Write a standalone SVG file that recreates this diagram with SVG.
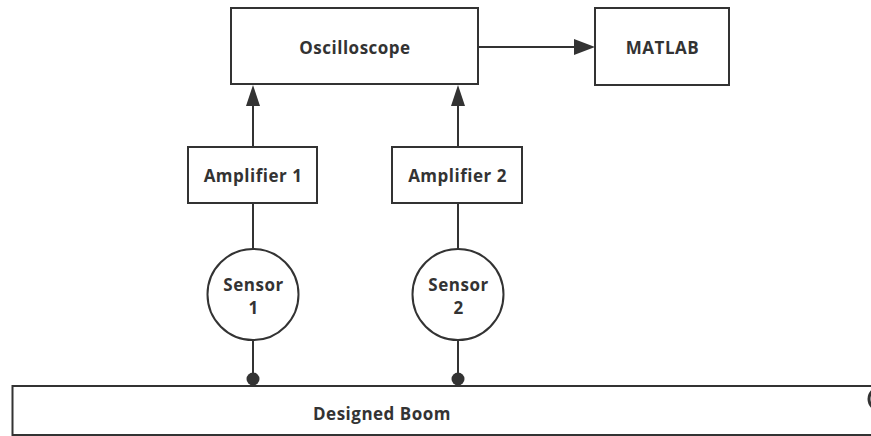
<svg xmlns="http://www.w3.org/2000/svg" width="871" height="436" viewBox="0 0 871 436">
<style>
.box{fill:#fff;stroke:#333;stroke-width:2}
.t{font-family:"Open Sans","Noto Sans","DejaVu Sans",sans-serif;font-weight:bold;font-size:17px;letter-spacing:0.5px;fill:#333;text-anchor:middle}
.ln{stroke:#333;stroke-width:2;fill:none}
</style>
<rect width="871" height="436" fill="#fff"/>
<g id="boom">
<rect class="box" x="12.5" y="386" width="880" height="49"/>
<text class="t" x="382" y="420">Designed Boom</text>
<circle cx="880" cy="399" r="11" fill="none" stroke="#333" stroke-width="3"/>
</g>
<g id="connectors">
<line class="ln" x1="478" y1="47" x2="580" y2="47"/>
<path d="M574,39 L595,47 L574,55 Z" fill="#333"/>
<line class="ln" x1="253" y1="147" x2="253" y2="100"/>
<path d="M246,106 L253,85 L260,106 Z" fill="#333"/>
<line class="ln" x1="458" y1="147" x2="458" y2="100"/>
<path d="M451,106 L458,85 L465,106 Z" fill="#333"/>
<line class="ln" x1="253" y1="203" x2="253" y2="249"/>
<line class="ln" x1="458" y1="203" x2="458" y2="249"/>
<line class="ln" x1="253" y1="340" x2="253" y2="378"/>
<line class="ln" x1="458" y1="340" x2="458" y2="378"/>
<circle cx="253" cy="379" r="6.5" fill="#333"/>
<circle cx="458" cy="379" r="6.5" fill="#333"/>
</g>
<g id="oscilloscope">
<rect class="box" x="231" y="8" width="247" height="76"/>
<text class="t" x="355" y="54">Oscilloscope</text>
</g>
<g id="matlab">
<rect class="box" x="595" y="8" width="134" height="77"/>
<text class="t" x="662.5" y="54">MATLAB</text>
</g>
<g id="amp1">
<rect class="box" x="188" y="147" width="129" height="56"/>
<text class="t" x="253" y="182">Amplifier 1</text>
</g>
<g id="amp2">
<rect class="box" x="392" y="147" width="130" height="56"/>
<text class="t" x="457.5" y="182">Amplifier 2</text>
</g>
<g id="sensor1">
<circle class="box" cx="253" cy="294.5" r="45.5"/>
<text class="t" x="253.5" y="291">Sensor</text>
<text class="t" x="253.5" y="314">1</text>
</g>
<g id="sensor2">
<circle class="box" cx="458" cy="294.5" r="45.5"/>
<text class="t" x="458.5" y="291">Sensor</text>
<text class="t" x="458.5" y="314">2</text>
</g>
</svg>
